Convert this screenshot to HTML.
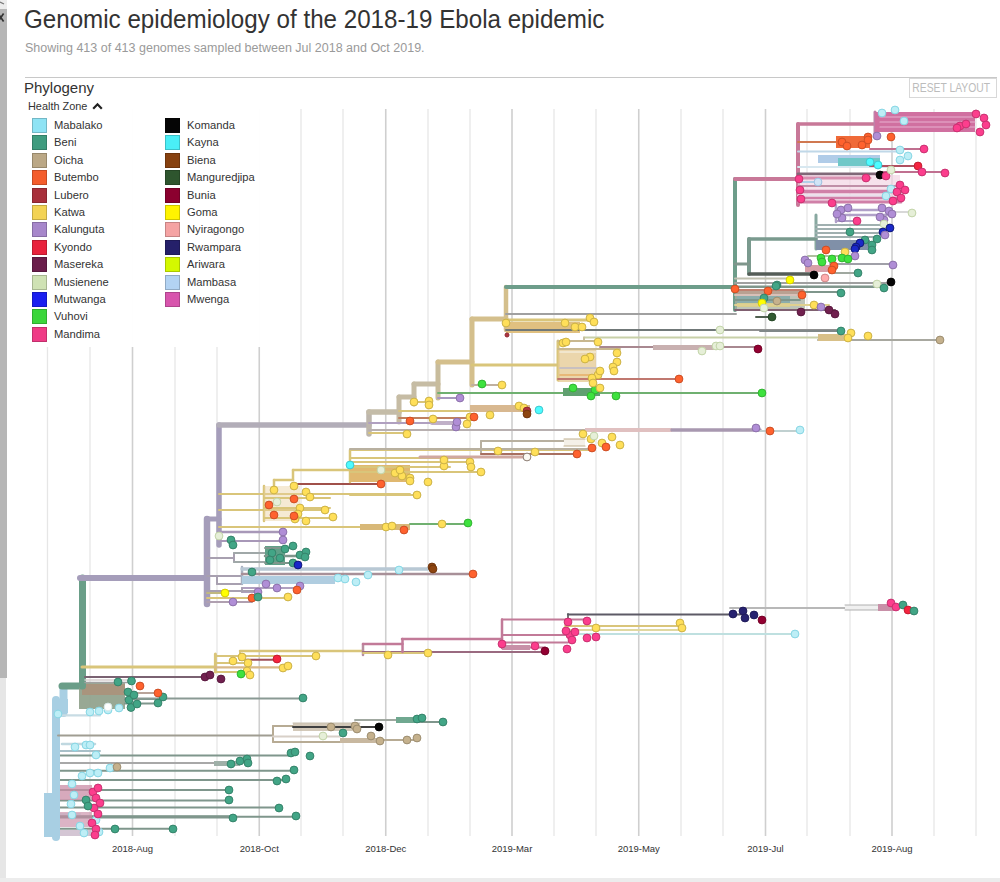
<!DOCTYPE html>
<html><head><meta charset="utf-8"><style>
html,body{margin:0;padding:0;width:1000px;height:882px;overflow:hidden;background:#fff;font-family:"Liberation Sans",sans-serif;}
.abs{position:absolute}
#title{position:absolute;left:24px;top:4px;font-size:26.5px;color:#333;white-space:nowrap;transform-origin:0 0;transform:scaleX(0.912)}
#sub{position:absolute;left:25px;top:41px;font-size:12.5px;color:#9a9a9a;white-space:nowrap}
#hline{position:absolute;left:25px;top:76.5px;width:972px;height:1.6px;background:#c8c8c8}
#phy{position:absolute;left:24px;top:79px;font-size:15px;color:#333;white-space:nowrap}
#reset{position:absolute;left:909px;top:78px;width:88px;height:20px;border:1px solid #d8d8d8;box-sizing:border-box;color:#bcbcbc;font-size:12px;text-align:center;line-height:19px;white-space:nowrap;overflow:hidden}
#legendbg{position:absolute;left:20px;top:96px;width:276px;height:251px;background:rgba(255,255,255,0.975)}
.sw{position:absolute;width:15px;height:15px;box-sizing:border-box}
.lb{position:absolute;font-size:11.2px;color:#333;white-space:nowrap;line-height:13px}
#hz{position:absolute;left:28px;top:100px;font-size:10.9px;color:#333;white-space:nowrap;line-height:12px}
#sbar{position:absolute;left:0;top:9px;width:6.5px;height:669px;background:#b6b6b6}
#sbar2{position:absolute;left:0;top:678px;width:6px;height:204px;background:#e6e6e6}
#bot{position:absolute;left:0;top:878px;width:1000px;height:4px;background:#ececec}
svg{position:absolute;left:0;top:0}
</style></head><body>
<svg width="1000" height="882" viewBox="0 0 1000 882" font-family="Liberation Sans, sans-serif">
<line x1="132.5" y1="109" x2="132.5" y2="836" stroke="#cfcfcf" stroke-width="1.6"/><line x1="259.25" y1="109" x2="259.25" y2="836" stroke="#cfcfcf" stroke-width="1.6"/><line x1="385.75" y1="109" x2="385.75" y2="836" stroke="#cfcfcf" stroke-width="1.6"/><line x1="512" y1="109" x2="512" y2="836" stroke="#cfcfcf" stroke-width="1.6"/><line x1="638.75" y1="109" x2="638.75" y2="836" stroke="#cfcfcf" stroke-width="1.6"/><line x1="765.5" y1="109" x2="765.5" y2="836" stroke="#cfcfcf" stroke-width="1.6"/><line x1="892" y1="109" x2="892" y2="836" stroke="#cfcfcf" stroke-width="1.6"/><line x1="47.5" y1="109" x2="47.5" y2="836" stroke="#e6e6e6" stroke-width="1.3"/><line x1="90" y1="109" x2="90" y2="836" stroke="#e6e6e6" stroke-width="1.3"/><line x1="175" y1="109" x2="175" y2="836" stroke="#e6e6e6" stroke-width="1.3"/><line x1="217" y1="109" x2="217" y2="836" stroke="#e6e6e6" stroke-width="1.3"/><line x1="301" y1="109" x2="301" y2="836" stroke="#e6e6e6" stroke-width="1.3"/><line x1="343" y1="109" x2="343" y2="836" stroke="#e6e6e6" stroke-width="1.3"/><line x1="428" y1="109" x2="428" y2="836" stroke="#e6e6e6" stroke-width="1.3"/><line x1="470" y1="109" x2="470" y2="836" stroke="#e6e6e6" stroke-width="1.3"/><line x1="554" y1="109" x2="554" y2="836" stroke="#e6e6e6" stroke-width="1.3"/><line x1="596" y1="109" x2="596" y2="836" stroke="#e6e6e6" stroke-width="1.3"/><line x1="681" y1="109" x2="681" y2="836" stroke="#e6e6e6" stroke-width="1.3"/><line x1="723" y1="109" x2="723" y2="836" stroke="#e6e6e6" stroke-width="1.3"/><line x1="807" y1="109" x2="807" y2="836" stroke="#e6e6e6" stroke-width="1.3"/><line x1="850" y1="109" x2="850" y2="836" stroke="#e6e6e6" stroke-width="1.3"/><line x1="934" y1="109" x2="934" y2="836" stroke="#e6e6e6" stroke-width="1.3"/><line x1="976" y1="109" x2="976" y2="836" stroke="#e6e6e6" stroke-width="1.3"/>
<text x="132.5" y="852" text-anchor="middle" font-size="9.5" fill="#333">2018-Aug</text><text x="259.25" y="852" text-anchor="middle" font-size="9.5" fill="#333">2018-Oct</text><text x="385.75" y="852" text-anchor="middle" font-size="9.5" fill="#333">2018-Dec</text><text x="512" y="852" text-anchor="middle" font-size="9.5" fill="#333">2019-Mar</text><text x="638.75" y="852" text-anchor="middle" font-size="9.5" fill="#333">2019-May</text><text x="765.5" y="852" text-anchor="middle" font-size="9.5" fill="#333">2019-Jul</text><text x="892" y="852" text-anchor="middle" font-size="9.5" fill="#333">2019-Aug</text>
<line x1="58" y1="755.5" x2="291" y2="755.5" stroke="#7f968c" stroke-width="2.0" stroke-linecap="round"/>
<line x1="58" y1="763" x2="214" y2="763" stroke="#a8a8a8" stroke-width="2.0" stroke-linecap="round"/>
<rect x="214" y="761" width="26" height="5" fill="#9fb0a8" fill-opacity="1"/>
<line x1="58" y1="770.7" x2="294" y2="770.7" stroke="#7f968c" stroke-width="2.0" stroke-linecap="round"/>
<line x1="58" y1="780" x2="286" y2="780" stroke="#7f968c" stroke-width="2.0" stroke-linecap="round"/>
<line x1="58" y1="790" x2="229" y2="790" stroke="#7f968c" stroke-width="2.0" stroke-linecap="round"/>
<line x1="58" y1="800.5" x2="229" y2="800.5" stroke="#7f968c" stroke-width="2.0" stroke-linecap="round"/>
<line x1="58" y1="807.6" x2="279" y2="807.6" stroke="#7f968c" stroke-width="2.0" stroke-linecap="round"/>
<line x1="58" y1="816.8" x2="296" y2="816.8" stroke="#7f968c" stroke-width="2.0" stroke-linecap="round"/>
<line x1="58" y1="816.8" x2="233" y2="816.8" stroke="#7f968c" stroke-width="3.2" stroke-linecap="round"/>
<line x1="58" y1="828.8" x2="173" y2="828.8" stroke="#7f968c" stroke-width="2.0" stroke-linecap="round"/>
<line x1="58" y1="814" x2="80" y2="814" stroke="#d8f0f4" stroke-width="2.0" stroke-linecap="round"/>
<rect x="57" y="785" width="35" height="15" fill="#c98ca6" fill-opacity="0.75"/>
<rect x="57" y="812" width="35" height="15" fill="#c98ca6" fill-opacity="0.65"/>
<rect x="57" y="830" width="35" height="6" fill="#b8a0b8" fill-opacity="0.6"/>
<line x1="58" y1="751" x2="100" y2="751" stroke="#a8c0c8" stroke-width="2.0" stroke-linecap="round"/>
<line x1="62" y1="744" x2="95" y2="744" stroke="#c0d8e0" stroke-width="2.5" stroke-linecap="round"/>
<line x1="56" y1="700" x2="56" y2="837" stroke="#a8cfe3" stroke-width="8" stroke-linecap="round"/>
<rect x="44" y="793" width="11" height="44" fill="#a8cfe3" fill-opacity="1"/>
<rect x="54" y="699" width="14" height="14" fill="#a8cfe3" fill-opacity="1"/>
<line x1="63.5" y1="688" x2="63.5" y2="713" stroke="#a8cfe3" stroke-width="8" stroke-linecap="round"/>
<line x1="62" y1="686" x2="82" y2="686" stroke="#6a9e88" stroke-width="7" stroke-linecap="round"/>
<line x1="60" y1="715.4" x2="100" y2="715.4" stroke="#c8dce4" stroke-width="2.2" stroke-linecap="round"/>
<line x1="58" y1="735.6" x2="273" y2="735.6" stroke="#a09d92" stroke-width="2.0" stroke-linecap="round"/>
<rect x="79" y="683" width="46" height="26" fill="#8d9e88" fill-opacity="0.9"/>
<rect x="82" y="684" width="43" height="11" fill="#b08c74" fill-opacity="0.7"/>
<line x1="125" y1="699" x2="163" y2="699" stroke="#7f968c" stroke-width="2.2" stroke-linecap="round"/>
<line x1="125" y1="693" x2="158" y2="693" stroke="#b9a49a" stroke-width="2.0" stroke-linecap="round"/>
<line x1="125" y1="703.6" x2="158" y2="703.6" stroke="#7f968c" stroke-width="2.0" stroke-linecap="round"/>
<line x1="125" y1="698.4" x2="303" y2="698.4" stroke="#8a9a94" stroke-width="2.0" stroke-linecap="round"/>
<line x1="82.5" y1="578" x2="82.5" y2="686" stroke="#6a9e88" stroke-width="7" stroke-linecap="round"/>
<line x1="80" y1="578" x2="207" y2="578" stroke="#a59dba" stroke-width="6" stroke-linecap="round"/>
<line x1="82" y1="667" x2="215" y2="667" stroke="#d9c57a" stroke-width="3" stroke-linecap="round"/>
<line x1="85" y1="677" x2="210" y2="677" stroke="#7a6272" stroke-width="2" stroke-linecap="round"/>
<line x1="215.4" y1="654" x2="215.4" y2="672" stroke="#d9c57a" stroke-width="3" stroke-linecap="round"/>
<line x1="215" y1="656" x2="316" y2="656" stroke="#d9c57a" stroke-width="2.0" stroke-linecap="round"/>
<line x1="240" y1="651" x2="240" y2="660" stroke="#d9c57a" stroke-width="2" stroke-linecap="round"/>
<line x1="240" y1="651" x2="363" y2="651" stroke="#d9c57a" stroke-width="2.5" stroke-linecap="round"/>
<line x1="240" y1="659.7" x2="277" y2="659.7" stroke="#a0525a" stroke-width="2.0" stroke-linecap="round"/>
<line x1="215" y1="663" x2="250" y2="663" stroke="#d9c57a" stroke-width="2.0" stroke-linecap="round"/>
<line x1="215" y1="667.4" x2="288" y2="667.4" stroke="#d8b888" stroke-width="2.2" stroke-linecap="round"/>
<line x1="215" y1="672" x2="248" y2="672" stroke="#d9c57a" stroke-width="2.0" stroke-linecap="round"/>
<line x1="363" y1="644" x2="363" y2="655" stroke="#b890a0" stroke-width="2.5" stroke-linecap="round"/>
<line x1="363" y1="644" x2="402.5" y2="644" stroke="#c27a98" stroke-width="2.5" stroke-linecap="round"/>
<line x1="363" y1="652" x2="545" y2="652" stroke="#9a6a80" stroke-width="2.2" stroke-linecap="round"/>
<line x1="363" y1="653" x2="428" y2="653" stroke="#d9c57a" stroke-width="2.0" stroke-linecap="round"/>
<line x1="402.5" y1="639" x2="402.5" y2="652" stroke="#c27a98" stroke-width="2.5" stroke-linecap="round"/>
<line x1="402" y1="639" x2="502" y2="639" stroke="#c27a98" stroke-width="2.5" stroke-linecap="round"/>
<line x1="502" y1="619.5" x2="502" y2="648" stroke="#c27a98" stroke-width="2.5" stroke-linecap="round"/>
<line x1="502" y1="619.5" x2="587" y2="619.5" stroke="#c27a98" stroke-width="2" stroke-linecap="round"/>
<line x1="568" y1="614" x2="568" y2="620" stroke="#777" stroke-width="2" stroke-linecap="round"/>
<line x1="568" y1="614.5" x2="740" y2="614.5" stroke="#5d5a66" stroke-width="2.2" stroke-linecap="round"/>
<line x1="730" y1="608" x2="880" y2="608" stroke="#b8b8b8" stroke-width="2.0" stroke-linecap="round"/>
<rect x="845" y="605" width="35" height="5" fill="#f0f0f0" fill-opacity="1"/>
<line x1="845" y1="605" x2="880" y2="605" stroke="#b0b0b0" stroke-width="1" stroke-linecap="round"/>
<line x1="845" y1="610" x2="880" y2="610" stroke="#b0b0b0" stroke-width="1" stroke-linecap="round"/>
<rect x="878" y="604" width="17" height="7" fill="#c890a8" fill-opacity="1"/>
<line x1="565" y1="626" x2="682" y2="626" stroke="#d9c57a" stroke-width="2.0" stroke-linecap="round"/>
<line x1="565" y1="630" x2="682" y2="630" stroke="#e0d8a0" stroke-width="2.0" stroke-linecap="round"/>
<line x1="568" y1="634" x2="795" y2="634" stroke="#bfe0e0" stroke-width="2.0" stroke-linecap="round"/>
<line x1="502" y1="635" x2="568" y2="635" stroke="#c27a98" stroke-width="2.0" stroke-linecap="round"/>
<line x1="502" y1="642.5" x2="568" y2="642.5" stroke="#c27a98" stroke-width="2.0" stroke-linecap="round"/>
<line x1="502" y1="647.5" x2="545" y2="647.5" stroke="#c27a98" stroke-width="2.0" stroke-linecap="round"/>
<rect x="502" y="645" width="28" height="5" fill="#c890a8" fill-opacity="1"/>
<line x1="207" y1="519" x2="207" y2="604" stroke="#a59dba" stroke-width="6.5" stroke-linecap="round"/>
<line x1="207" y1="519" x2="219" y2="519" stroke="#a59dba" stroke-width="5" stroke-linecap="round"/>
<line x1="219" y1="425" x2="219" y2="545" stroke="#a59dba" stroke-width="5.5" stroke-linecap="round"/>
<line x1="219" y1="425" x2="369" y2="425" stroke="#b2adb8" stroke-width="5.5" stroke-linecap="round"/>
<line x1="207" y1="558" x2="234" y2="558" stroke="#a8a0b0" stroke-width="2.0" stroke-linecap="round"/>
<line x1="234" y1="553" x2="234" y2="562" stroke="#a8a0b0" stroke-width="2.0" stroke-linecap="round"/>
<line x1="234" y1="553" x2="265" y2="553" stroke="#a0a8a8" stroke-width="2.0" stroke-linecap="round"/>
<line x1="234" y1="562" x2="265" y2="562" stroke="#a0a8a8" stroke-width="2.0" stroke-linecap="round"/>
<rect x="265" y="546" width="20" height="19" fill="#5fa088" fill-opacity="1"/>
<line x1="265" y1="548" x2="293" y2="548" stroke="#7f968c" stroke-width="2.0" stroke-linecap="round"/>
<line x1="265" y1="556" x2="306" y2="556" stroke="#7f968c" stroke-width="2.5" stroke-linecap="round"/>
<line x1="265" y1="563" x2="298" y2="563" stroke="#7f968c" stroke-width="2.0" stroke-linecap="round"/>
<line x1="217" y1="576" x2="217" y2="584" stroke="#a8a0b0" stroke-width="2.0" stroke-linecap="round"/>
<line x1="207" y1="576" x2="242" y2="576" stroke="#a8a0b0" stroke-width="2.0" stroke-linecap="round"/>
<line x1="217" y1="584" x2="242" y2="584" stroke="#a8a0b0" stroke-width="2.0" stroke-linecap="round"/>
<line x1="242" y1="567" x2="242" y2="584" stroke="#a8b0c0" stroke-width="2.5" stroke-linecap="round"/>
<line x1="242" y1="569" x2="433" y2="569" stroke="#b8c8d4" stroke-width="3.5" stroke-linecap="round"/>
<line x1="242" y1="574" x2="473" y2="574" stroke="#a89098" stroke-width="2.5" stroke-linecap="round"/>
<rect x="242" y="576" width="93" height="8" fill="#b0cde0" fill-opacity="1"/>
<line x1="242" y1="588" x2="300" y2="588" stroke="#b0a0c0" stroke-width="2.0" stroke-linecap="round"/>
<line x1="242" y1="592" x2="258" y2="592" stroke="#b0a0c0" stroke-width="2.0" stroke-linecap="round"/>
<line x1="242" y1="588" x2="242" y2="592" stroke="#a8a0b0" stroke-width="2.0" stroke-linecap="round"/>
<line x1="207" y1="591" x2="258" y2="591" stroke="#a8a0b0" stroke-width="2.0" stroke-linecap="round"/>
<line x1="207" y1="593" x2="225" y2="593" stroke="#c0b880" stroke-width="2.0" stroke-linecap="round"/>
<line x1="207" y1="598" x2="288" y2="598" stroke="#d9c57a" stroke-width="2.0" stroke-linecap="round"/>
<line x1="207" y1="602" x2="252" y2="602" stroke="#b0a0b0" stroke-width="2.0" stroke-linecap="round"/>
<line x1="219" y1="510" x2="325" y2="510" stroke="#d9c57a" stroke-width="2.0" stroke-linecap="round"/>
<line x1="219" y1="527" x2="360" y2="527" stroke="#d9c57a" stroke-width="2.0" stroke-linecap="round"/>
<rect x="360" y="524" width="50" height="6" fill="#d8b878" fill-opacity="1"/>
<line x1="219" y1="532" x2="283" y2="532" stroke="#a898b8" stroke-width="2.5" stroke-linecap="round"/>
<line x1="219" y1="541" x2="283" y2="541" stroke="#a898b8" stroke-width="2.0" stroke-linecap="round"/>
<line x1="219" y1="494" x2="410" y2="494" stroke="#d9c57a" stroke-width="2" stroke-linecap="round"/>
<line x1="293" y1="470" x2="350" y2="470" stroke="#d9c57a" stroke-width="2.5" stroke-linecap="round"/>
<line x1="293" y1="470" x2="293" y2="480" stroke="#d9c57a" stroke-width="2.5" stroke-linecap="round"/>
<line x1="274" y1="480" x2="293" y2="480" stroke="#d9c57a" stroke-width="2.5" stroke-linecap="round"/>
<line x1="274" y1="480" x2="274" y2="488" stroke="#d9c57a" stroke-width="2.5" stroke-linecap="round"/>
<line x1="264" y1="486" x2="264" y2="521" stroke="#d9c57a" stroke-width="2.5" stroke-linecap="round"/>
<rect x="264" y="486" width="36" height="35" fill="#e8d0a0" fill-opacity="0.45"/>
<line x1="264" y1="518" x2="333" y2="518" stroke="#d9c57a" stroke-width="2.0" stroke-linecap="round"/>
<line x1="293" y1="484" x2="381" y2="484" stroke="#a0504a" stroke-width="2.0" stroke-linecap="round"/>
<line x1="264" y1="498" x2="330" y2="498" stroke="#d9c57a" stroke-width="2.0" stroke-linecap="round"/>
<line x1="264" y1="508" x2="330" y2="508" stroke="#d9c57a" stroke-width="2.0" stroke-linecap="round"/>
<line x1="350" y1="450" x2="350" y2="482" stroke="#d9c57a" stroke-width="2.5" stroke-linecap="round"/>
<line x1="350" y1="450" x2="590" y2="450" stroke="#d9c57a" stroke-width="2.0" stroke-linecap="round"/>
<line x1="350" y1="458" x2="470" y2="458" stroke="#d9c57a" stroke-width="2.0" stroke-linecap="round"/>
<rect x="350" y="465" width="60" height="17" fill="#e0b870" fill-opacity="1"/>
<line x1="350" y1="462" x2="471" y2="462" stroke="#d9c57a" stroke-width="2.0" stroke-linecap="round"/>
<line x1="350" y1="472" x2="481" y2="472" stroke="#d9c57a" stroke-width="2.0" stroke-linecap="round"/>
<line x1="350" y1="495" x2="417" y2="495" stroke="#d9c57a" stroke-width="2.0" stroke-linecap="round"/>
<line x1="350" y1="467" x2="450" y2="467" stroke="#d9c57a" stroke-width="2.0" stroke-linecap="round"/>
<line x1="481" y1="441" x2="565" y2="441" stroke="#b8b0a0" stroke-width="2.0" stroke-linecap="round"/>
<line x1="481" y1="441" x2="481" y2="454" stroke="#b8b0a0" stroke-width="2.0" stroke-linecap="round"/>
<line x1="481" y1="454" x2="577" y2="454" stroke="#a87060" stroke-width="2.0" stroke-linecap="round"/>
<rect x="564" y="439" width="21" height="7" fill="#f4f0e8" fill-opacity="1"/>
<line x1="564" y1="439" x2="585" y2="439" stroke="#c0b090" stroke-width="1.2" stroke-linecap="round"/>
<line x1="564" y1="446" x2="585" y2="446" stroke="#c0b090" stroke-width="1.2" stroke-linecap="round"/>
<line x1="420" y1="457" x2="527" y2="457" stroke="#d0a8a0" stroke-width="3" stroke-linecap="round"/>
<line x1="350" y1="449" x2="590" y2="449" stroke="#b8b0a0" stroke-width="2.0" stroke-linecap="round"/>
<line x1="369" y1="412" x2="369" y2="434" stroke="#bdb6ac" stroke-width="5.5" stroke-linecap="round"/>
<line x1="369" y1="412" x2="399" y2="412" stroke="#c4bca8" stroke-width="5.5" stroke-linecap="round"/>
<line x1="399" y1="397" x2="399" y2="422" stroke="#c6bca4" stroke-width="5" stroke-linecap="round"/>
<line x1="399" y1="397" x2="414" y2="397" stroke="#c6bca4" stroke-width="5" stroke-linecap="round"/>
<line x1="414" y1="384" x2="414" y2="404" stroke="#c6bca4" stroke-width="5" stroke-linecap="round"/>
<line x1="414" y1="384" x2="438" y2="384" stroke="#c6bca4" stroke-width="5" stroke-linecap="round"/>
<line x1="438" y1="362" x2="438" y2="398" stroke="#c8bc9c" stroke-width="5" stroke-linecap="round"/>
<line x1="438" y1="362" x2="472" y2="362" stroke="#d4bf8c" stroke-width="5" stroke-linecap="round"/>
<line x1="472" y1="319" x2="472" y2="385" stroke="#d4bf8c" stroke-width="5" stroke-linecap="round"/>
<line x1="472" y1="319" x2="506" y2="319" stroke="#d4bf8c" stroke-width="5" stroke-linecap="round"/>
<line x1="506" y1="287" x2="506" y2="330" stroke="#d4bf8c" stroke-width="4.5" stroke-linecap="round"/>
<line x1="506" y1="287" x2="735" y2="287" stroke="#6d9d8a" stroke-width="4" stroke-linecap="round"/>
<line x1="369" y1="430" x2="585" y2="430" stroke="#b8b0b0" stroke-width="2.0" stroke-linecap="round"/>
<rect x="585" y="428" width="87" height="4" fill="#e0c0c0" fill-opacity="1"/>
<line x1="672" y1="430" x2="760" y2="430" stroke="#a898b0" stroke-width="3.5" stroke-linecap="round"/>
<line x1="760" y1="431" x2="800" y2="431" stroke="#c0d0d0" stroke-width="2.0" stroke-linecap="round"/>
<line x1="369" y1="433" x2="407" y2="433" stroke="#d9c57a" stroke-width="2.0" stroke-linecap="round"/>
<line x1="369" y1="423" x2="457" y2="423" stroke="#b0a0c0" stroke-width="2.0" stroke-linecap="round"/>
<line x1="399" y1="418" x2="470" y2="418" stroke="#c08060" stroke-width="2.0" stroke-linecap="round"/>
<line x1="399" y1="411" x2="470" y2="411" stroke="#d9c57a" stroke-width="2.0" stroke-linecap="round"/>
<rect x="470" y="405" width="60" height="7" fill="#d8b890" fill-opacity="1"/>
<line x1="414" y1="402" x2="429" y2="402" stroke="#d9c57a" stroke-width="2.0" stroke-linecap="round"/>
<line x1="438" y1="393" x2="762" y2="393" stroke="#6fb070" stroke-width="2.0" stroke-linecap="round"/>
<line x1="438" y1="398" x2="460" y2="398" stroke="#a898c0" stroke-width="2.0" stroke-linecap="round"/>
<line x1="472" y1="385" x2="502" y2="385" stroke="#c0b0a0" stroke-width="2.0" stroke-linecap="round"/>
<rect x="563" y="388" width="37" height="8" fill="#60a070" fill-opacity="1"/>
<line x1="506" y1="314" x2="736" y2="314" stroke="#a0a0a0" stroke-width="2.0" stroke-linecap="round"/>
<line x1="506" y1="320" x2="594" y2="320" stroke="#d9c57a" stroke-width="3" stroke-linecap="round"/>
<rect x="506" y="322" width="74" height="11" fill="#e0c080" fill-opacity="1"/>
<line x1="506" y1="330" x2="720" y2="330" stroke="#707878" stroke-width="2.0" stroke-linecap="round"/>
<line x1="720" y1="330" x2="841" y2="330" stroke="#909090" stroke-width="2.0" stroke-linecap="round"/>
<line x1="584" y1="337.5" x2="848" y2="337.5" stroke="#c8d0a8" stroke-width="2.0" stroke-linecap="round"/>
<line x1="584" y1="337.5" x2="584" y2="341" stroke="#c8c0a0" stroke-width="2.0" stroke-linecap="round"/>
<line x1="818" y1="340" x2="940" y2="340" stroke="#a8a8a0" stroke-width="2.0" stroke-linecap="round"/>
<rect x="818" y="334" width="30" height="7" fill="#d8c088" fill-opacity="1"/>
<line x1="760" y1="331" x2="841" y2="331" stroke="#808888" stroke-width="2.0" stroke-linecap="round"/>
<line x1="472" y1="365" x2="558" y2="365" stroke="#d9c57a" stroke-width="3" stroke-linecap="round"/>
<line x1="558" y1="341" x2="558" y2="380" stroke="#d9c57a" stroke-width="3" stroke-linecap="round"/>
<rect x="558" y="348" width="38" height="34" fill="#e4c890" fill-opacity="0.75"/>
<line x1="560" y1="352" x2="596" y2="352" stroke="#f4ecd8" stroke-width="1.5" stroke-linecap="round"/>
<line x1="560" y1="368" x2="596" y2="368" stroke="#c8c0c0" stroke-width="2" stroke-linecap="round"/>
<line x1="560" y1="375" x2="596" y2="375" stroke="#e8b878" stroke-width="2" stroke-linecap="round"/>
<line x1="558" y1="341" x2="598" y2="341" stroke="#c8b890" stroke-width="2.0" stroke-linecap="round"/>
<line x1="558" y1="349" x2="620" y2="349" stroke="#c8b890" stroke-width="2.0" stroke-linecap="round"/>
<line x1="558" y1="379" x2="679" y2="379" stroke="#c07870" stroke-width="2.0" stroke-linecap="round"/>
<line x1="600" y1="347" x2="758" y2="347" stroke="#a88890" stroke-width="2.0" stroke-linecap="round"/>
<rect x="653" y="345" width="67" height="5" fill="#c8b0b0" fill-opacity="1"/>
<line x1="735" y1="179" x2="735" y2="310" stroke="#6d9d8a" stroke-width="4" stroke-linecap="round"/>
<line x1="735" y1="179" x2="798" y2="179" stroke="#c87898" stroke-width="4" stroke-linecap="round"/>
<line x1="798" y1="124" x2="798" y2="205" stroke="#c87898" stroke-width="4" stroke-linecap="round"/>
<line x1="798" y1="124" x2="875" y2="124" stroke="#c87898" stroke-width="3.5" stroke-linecap="round"/>
<line x1="875" y1="112" x2="875" y2="134" stroke="#c080a8" stroke-width="3" stroke-linecap="round"/>
<rect x="875" y="112" width="100" height="20" fill="#d070a0" fill-opacity="1"/>
<line x1="880" y1="117" x2="975" y2="117" stroke="#e8b0d0" stroke-width="1.2" stroke-linecap="round"/>
<line x1="880" y1="122" x2="975" y2="122" stroke="#e8b0d0" stroke-width="1.2" stroke-linecap="round"/>
<line x1="880" y1="127" x2="975" y2="127" stroke="#e8b0d0" stroke-width="1.2" stroke-linecap="round"/>
<line x1="798" y1="142" x2="836" y2="142" stroke="#d07850" stroke-width="2" stroke-linecap="round"/>
<rect x="836" y="136" width="34" height="12" fill="#f06a38" fill-opacity="1"/>
<line x1="798" y1="151.4" x2="900" y2="151.4" stroke="#c0d8e8" stroke-width="2.0" stroke-linecap="round"/>
<line x1="870" y1="149" x2="924" y2="149" stroke="#c07090" stroke-width="2.0" stroke-linecap="round"/>
<rect x="818" y="155" width="62" height="8" fill="#b0cce8" fill-opacity="1"/>
<rect x="838" y="158" width="42" height="10" fill="#70c8c8" fill-opacity="1"/>
<line x1="798" y1="167" x2="890" y2="167" stroke="#d8e8f0" stroke-width="2.0" stroke-linecap="round"/>
<line x1="870" y1="166" x2="918" y2="166" stroke="#b05060" stroke-width="2.0" stroke-linecap="round"/>
<line x1="798" y1="174" x2="880" y2="174" stroke="#806878" stroke-width="2.8" stroke-linecap="round"/>
<line x1="880" y1="172" x2="945" y2="172" stroke="#c07090" stroke-width="2.0" stroke-linecap="round"/>
<rect x="798" y="175" width="102" height="28" fill="#f2d6e4" fill-opacity="0.7"/>
<line x1="798" y1="178" x2="870" y2="178" stroke="#d890b0" stroke-width="3" stroke-linecap="round"/>
<line x1="798" y1="182" x2="818" y2="182" stroke="#b0d0e8" stroke-width="2.0" stroke-linecap="round"/>
<line x1="798" y1="195.5" x2="890" y2="195.5" stroke="#e8e0ec" stroke-width="2" stroke-linecap="round"/>
<line x1="798" y1="186" x2="900" y2="186" stroke="#c090a8" stroke-width="2.0" stroke-linecap="round"/>
<line x1="798" y1="191.4" x2="905" y2="191.4" stroke="#d080a8" stroke-width="3.5" stroke-linecap="round"/>
<line x1="798" y1="198" x2="901" y2="198" stroke="#d080a8" stroke-width="2.5" stroke-linecap="round"/>
<line x1="798" y1="202" x2="901" y2="202" stroke="#d080a8" stroke-width="3" stroke-linecap="round"/>
<line x1="836" y1="205" x2="836" y2="222" stroke="#b0a0c8" stroke-width="2.5" stroke-linecap="round"/>
<line x1="836" y1="210" x2="890" y2="210" stroke="#b0a0c8" stroke-width="2.5" stroke-linecap="round"/>
<line x1="836" y1="215" x2="892" y2="215" stroke="#b0a0c8" stroke-width="2.5" stroke-linecap="round"/>
<line x1="836" y1="221" x2="857" y2="221" stroke="#b0a0c8" stroke-width="2.0" stroke-linecap="round"/>
<line x1="892" y1="212" x2="912" y2="212" stroke="#d8d8d8" stroke-width="2.0" stroke-linecap="round"/>
<line x1="816" y1="215" x2="816" y2="249" stroke="#88a8a0" stroke-width="3" stroke-linecap="round"/>
<line x1="749" y1="239" x2="816" y2="239" stroke="#7a9a8e" stroke-width="3.5" stroke-linecap="round"/>
<line x1="749" y1="239" x2="749" y2="274" stroke="#7a9a8e" stroke-width="4" stroke-linecap="round"/>
<line x1="735" y1="264" x2="749" y2="264" stroke="#7f968c" stroke-width="3" stroke-linecap="round"/>
<line x1="749" y1="274" x2="814" y2="274" stroke="#555d58" stroke-width="3.5" stroke-linecap="round"/>
<line x1="816" y1="225" x2="880" y2="225" stroke="#a0b0b0" stroke-width="2.0" stroke-linecap="round"/>
<line x1="816" y1="229" x2="880" y2="229" stroke="#a0b0b0" stroke-width="2.0" stroke-linecap="round"/>
<line x1="816" y1="233" x2="880" y2="233" stroke="#a0b0b0" stroke-width="2.0" stroke-linecap="round"/>
<line x1="816" y1="237" x2="880" y2="237" stroke="#a0b0b0" stroke-width="2.0" stroke-linecap="round"/>
<rect x="816" y="240" width="54" height="10" fill="#8090a8" fill-opacity="1"/>
<line x1="808" y1="256" x2="857" y2="256" stroke="#b0c0a0" stroke-width="2.0" stroke-linecap="round"/>
<rect x="805" y="265" width="25" height="7" fill="#d8a0a8" fill-opacity="1"/>
<line x1="830" y1="264" x2="893" y2="264" stroke="#a0a0a8" stroke-width="2.0" stroke-linecap="round"/>
<line x1="830" y1="273" x2="858" y2="273" stroke="#a0a8a0" stroke-width="2.0" stroke-linecap="round"/>
<line x1="735" y1="278.6" x2="790" y2="278.6" stroke="#c0c0b0" stroke-width="2.0" stroke-linecap="round"/>
<line x1="735" y1="283" x2="891" y2="283" stroke="#a0a0a0" stroke-width="2.0" stroke-linecap="round"/>
<line x1="735" y1="286.7" x2="884" y2="286.7" stroke="#7f968c" stroke-width="2.5" stroke-linecap="round"/>
<rect x="735" y="290" width="70" height="20" fill="#a8b0a0" fill-opacity="0.75"/>
<rect x="737" y="291" width="68" height="5" fill="#b89888" fill-opacity="0.8"/>
<rect x="737" y="296" width="53" height="7" fill="#80a8a8" fill-opacity="0.8"/>
<rect x="737" y="303" width="53" height="4" fill="#d8d088" fill-opacity="0.9"/>
<line x1="735" y1="290" x2="803" y2="290" stroke="#c08070" stroke-width="2.0" stroke-linecap="round"/>
<line x1="735" y1="295" x2="803" y2="295" stroke="#d8c0b8" stroke-width="2.0" stroke-linecap="round"/>
<line x1="735" y1="300" x2="800" y2="300" stroke="#7f968c" stroke-width="2.0" stroke-linecap="round"/>
<line x1="735" y1="305" x2="829" y2="305" stroke="#e0d090" stroke-width="2.0" stroke-linecap="round"/>
<line x1="800" y1="292" x2="841" y2="292" stroke="#7f968c" stroke-width="2.0" stroke-linecap="round"/>
<line x1="735" y1="310" x2="835" y2="310" stroke="#806070" stroke-width="2.0" stroke-linecap="round"/>
<line x1="756" y1="317" x2="772" y2="317" stroke="#506050" stroke-width="2.0" stroke-linecap="round"/>
<line x1="273" y1="726" x2="273" y2="742" stroke="#b7ab94" stroke-width="2" stroke-linecap="round"/>
<line x1="273" y1="726" x2="293" y2="726" stroke="#b7ab94" stroke-width="2" stroke-linecap="round"/>
<rect x="293" y="723" width="67" height="8" fill="#c8bca8" fill-opacity="0.8"/>
<line x1="293" y1="723" x2="360" y2="723" stroke="#c8c0b0" stroke-width="1.2" stroke-linecap="round"/>
<line x1="293" y1="727" x2="379" y2="727" stroke="#404040" stroke-width="2" stroke-linecap="round"/>
<line x1="355" y1="720" x2="420" y2="720" stroke="#a0a8a0" stroke-width="2.0" stroke-linecap="round"/>
<rect x="396" y="717" width="24" height="6" fill="#70a890" fill-opacity="1"/>
<line x1="420" y1="722" x2="443" y2="722" stroke="#7f968c" stroke-width="2.0" stroke-linecap="round"/>
<line x1="273" y1="742" x2="340" y2="742" stroke="#b7ab94" stroke-width="2" stroke-linecap="round"/>
<rect x="340" y="738" width="40" height="5" fill="#c8b8a0" fill-opacity="1"/>
<line x1="380" y1="740" x2="417" y2="740" stroke="#b7ab94" stroke-width="2.0" stroke-linecap="round"/>
<line x1="273" y1="736.4" x2="340" y2="736.4" stroke="#d8d0c8" stroke-width="2.0" stroke-linecap="round"/>
<line x1="410" y1="524" x2="469" y2="524" stroke="#70b070" stroke-width="2.0" stroke-linecap="round"/>
<line x1="432" y1="423" x2="457" y2="423" stroke="#c0b0c8" stroke-width="4" stroke-linecap="round"/>
<line x1="85" y1="680" x2="130" y2="680" stroke="#d8d0d0" stroke-width="1.5" stroke-linecap="round"/>
<line x1="85" y1="682.5" x2="128" y2="682.5" stroke="#a0a0a0" stroke-width="1.5" stroke-linecap="round"/>
<circle cx="291" cy="753" r="3.9" fill="#42a586" stroke="#35836a" stroke-width="1"/>
<circle cx="295" cy="752" r="3.9" fill="#42a586" stroke="#35836a" stroke-width="1"/>
<circle cx="310" cy="756" r="3.9" fill="#42a586" stroke="#35836a" stroke-width="1"/>
<circle cx="231" cy="764" r="3.9" fill="#42a586" stroke="#35836a" stroke-width="1"/>
<circle cx="240" cy="761" r="3.9" fill="#42a586" stroke="#35836a" stroke-width="1"/>
<circle cx="247" cy="759" r="3.9" fill="#42a586" stroke="#35836a" stroke-width="1"/>
<circle cx="248" cy="763" r="3.9" fill="#42a586" stroke="#35836a" stroke-width="1"/>
<circle cx="294" cy="770" r="3.9" fill="#42a586" stroke="#35836a" stroke-width="1"/>
<circle cx="277" cy="781" r="3.9" fill="#42a586" stroke="#35836a" stroke-width="1"/>
<circle cx="286" cy="779" r="3.9" fill="#42a586" stroke="#35836a" stroke-width="1"/>
<circle cx="229" cy="790" r="3.9" fill="#42a586" stroke="#35836a" stroke-width="1"/>
<circle cx="229" cy="800" r="3.9" fill="#42a586" stroke="#35836a" stroke-width="1"/>
<circle cx="279" cy="808" r="3.9" fill="#42a586" stroke="#35836a" stroke-width="1"/>
<circle cx="233" cy="818" r="3.9" fill="#42a586" stroke="#35836a" stroke-width="1"/>
<circle cx="296" cy="816" r="3.9" fill="#42a586" stroke="#35836a" stroke-width="1"/>
<circle cx="115" cy="829" r="3.9" fill="#42a586" stroke="#35836a" stroke-width="1"/>
<circle cx="173" cy="829" r="3.9" fill="#42a586" stroke="#35836a" stroke-width="1"/>
<circle cx="58" cy="714" r="3.9" fill="#bdeef6" stroke="#86d6e4" stroke-width="1"/>
<circle cx="90" cy="712" r="3.9" fill="#bdeef6" stroke="#86d6e4" stroke-width="1"/>
<circle cx="99" cy="711" r="3.9" fill="#bdeef6" stroke="#86d6e4" stroke-width="1"/>
<circle cx="108" cy="710" r="3.9" fill="#bdeef6" stroke="#86d6e4" stroke-width="1"/>
<circle cx="72" cy="784" r="3.9" fill="#bdeef6" stroke="#86d6e4" stroke-width="1"/>
<circle cx="82" cy="776" r="3.9" fill="#bdeef6" stroke="#86d6e4" stroke-width="1"/>
<circle cx="90" cy="773" r="3.9" fill="#bdeef6" stroke="#86d6e4" stroke-width="1"/>
<circle cx="98" cy="773" r="3.9" fill="#bdeef6" stroke="#86d6e4" stroke-width="1"/>
<circle cx="110" cy="768" r="3.9" fill="#bdeef6" stroke="#86d6e4" stroke-width="1"/>
<circle cx="74" cy="795" r="3.9" fill="#bdeef6" stroke="#86d6e4" stroke-width="1"/>
<circle cx="71" cy="804" r="3.9" fill="#bdeef6" stroke="#86d6e4" stroke-width="1"/>
<circle cx="72" cy="815" r="3.9" fill="#bdeef6" stroke="#86d6e4" stroke-width="1"/>
<circle cx="80" cy="826" r="3.9" fill="#bdeef6" stroke="#86d6e4" stroke-width="1"/>
<circle cx="84" cy="833" r="3.9" fill="#bdeef6" stroke="#86d6e4" stroke-width="1"/>
<circle cx="99" cy="832" r="3.9" fill="#bdeef6" stroke="#86d6e4" stroke-width="1"/>
<circle cx="96" cy="820" r="3.9" fill="#bdeef6" stroke="#86d6e4" stroke-width="1"/>
<circle cx="75" cy="747" r="3.9" fill="#bdeef6" stroke="#86d6e4" stroke-width="1"/>
<circle cx="86" cy="745" r="3.9" fill="#bdeef6" stroke="#86d6e4" stroke-width="1"/>
<circle cx="90" cy="745" r="3.9" fill="#bdeef6" stroke="#86d6e4" stroke-width="1"/>
<circle cx="96" cy="755" r="3.9" fill="#bdeef6" stroke="#86d6e4" stroke-width="1"/>
<circle cx="93" cy="792" r="3.9" fill="#fc3e8d" stroke="#c83170" stroke-width="1"/>
<circle cx="98" cy="788" r="3.9" fill="#fc3e8d" stroke="#c83170" stroke-width="1"/>
<circle cx="96" cy="798" r="3.9" fill="#fc3e8d" stroke="#c83170" stroke-width="1"/>
<circle cx="100" cy="803" r="3.9" fill="#fc3e8d" stroke="#c83170" stroke-width="1"/>
<circle cx="94" cy="808" r="3.9" fill="#fc3e8d" stroke="#c83170" stroke-width="1"/>
<circle cx="98" cy="814" r="3.9" fill="#fc3e8d" stroke="#c83170" stroke-width="1"/>
<circle cx="92" cy="823" r="3.9" fill="#fc3e8d" stroke="#c83170" stroke-width="1"/>
<circle cx="96" cy="829" r="3.9" fill="#fc3e8d" stroke="#c83170" stroke-width="1"/>
<circle cx="95" cy="835" r="3.9" fill="#fc3e8d" stroke="#c83170" stroke-width="1"/>
<circle cx="86" cy="800" r="3.9" fill="#42a586" stroke="#35836a" stroke-width="1"/>
<circle cx="88" cy="806" r="3.9" fill="#42a586" stroke="#35836a" stroke-width="1"/>
<circle cx="117" cy="767" r="3.9" fill="#c5b18d" stroke="#9c8d70" stroke-width="1"/>
<circle cx="108" cy="707" r="3.9" fill="#ffffff" stroke="#d8e8e8" stroke-width="1"/>
<circle cx="119" cy="708" r="3.9" fill="#bdeef6" stroke="#86d6e4" stroke-width="1"/>
<circle cx="118" cy="682" r="3.9" fill="#42a586" stroke="#35836a" stroke-width="1"/>
<circle cx="131.5" cy="681" r="3.9" fill="#42a586" stroke="#35836a" stroke-width="1"/>
<circle cx="129" cy="700" r="3.9" fill="#42a586" stroke="#35836a" stroke-width="1"/>
<circle cx="131" cy="707.5" r="3.9" fill="#42a586" stroke="#35836a" stroke-width="1"/>
<circle cx="137" cy="704" r="3.9" fill="#42a586" stroke="#35836a" stroke-width="1"/>
<circle cx="158" cy="703" r="3.9" fill="#42a586" stroke="#35836a" stroke-width="1"/>
<circle cx="163" cy="697" r="3.9" fill="#42a586" stroke="#35836a" stroke-width="1"/>
<circle cx="128" cy="692" r="3.9" fill="#42a586" stroke="#35836a" stroke-width="1"/>
<circle cx="134" cy="695" r="3.9" fill="#42a586" stroke="#35836a" stroke-width="1"/>
<circle cx="140" cy="686" r="3.9" fill="#ff622e" stroke="#cc4e25" stroke-width="1"/>
<circle cx="158" cy="693" r="3.9" fill="#ff622e" stroke="#cc4e25" stroke-width="1"/>
<circle cx="303" cy="698" r="3.9" fill="#42a586" stroke="#35836a" stroke-width="1"/>
<circle cx="205" cy="677" r="3.9" fill="#71204f" stroke="#5a193f" stroke-width="1"/>
<circle cx="210" cy="675" r="3.9" fill="#71204f" stroke="#5a193f" stroke-width="1"/>
<circle cx="221" cy="679" r="3.9" fill="#71204f" stroke="#5a193f" stroke-width="1"/>
<circle cx="316" cy="656" r="3.9" fill="#ffdf59" stroke="#cbb146" stroke-width="1"/>
<circle cx="277" cy="659" r="3.9" fill="#f5243f" stroke="#c21c32" stroke-width="1"/>
<circle cx="283" cy="668" r="3.9" fill="#ffdf59" stroke="#cbb146" stroke-width="1"/>
<circle cx="288" cy="666" r="3.9" fill="#ffdf59" stroke="#cbb146" stroke-width="1"/>
<circle cx="242" cy="657" r="3.9" fill="#ffdf59" stroke="#cbb146" stroke-width="1"/>
<circle cx="233" cy="661" r="3.9" fill="#ffdf59" stroke="#cbb146" stroke-width="1"/>
<circle cx="248" cy="663" r="3.9" fill="#ffdf59" stroke="#cbb146" stroke-width="1"/>
<circle cx="247" cy="671" r="3.9" fill="#ffdf59" stroke="#cbb146" stroke-width="1"/>
<circle cx="250" cy="675" r="3.9" fill="#ffdf59" stroke="#cbb146" stroke-width="1"/>
<circle cx="241" cy="674" r="3.9" fill="#3ee23e" stroke="#31b331" stroke-width="1"/>
<circle cx="388" cy="655" r="3.9" fill="#ffdf59" stroke="#cbb146" stroke-width="1"/>
<circle cx="428" cy="653" r="3.9" fill="#ffdf59" stroke="#cbb146" stroke-width="1"/>
<circle cx="568" cy="622" r="3.9" fill="#fc3e8d" stroke="#c83170" stroke-width="1"/>
<circle cx="587" cy="621" r="3.9" fill="#fc3e8d" stroke="#c83170" stroke-width="1"/>
<circle cx="733" cy="614" r="3.9" fill="#272270" stroke="#1f1b59" stroke-width="1"/>
<circle cx="743" cy="611" r="3.9" fill="#272270" stroke="#1f1b59" stroke-width="1"/>
<circle cx="745" cy="618" r="3.9" fill="#272270" stroke="#1f1b59" stroke-width="1"/>
<circle cx="754" cy="615" r="3.9" fill="#272270" stroke="#1f1b59" stroke-width="1"/>
<circle cx="762" cy="620" r="3.9" fill="#930032" stroke="#740027" stroke-width="1"/>
<circle cx="891" cy="603" r="3.9" fill="#fc3e8d" stroke="#c83170" stroke-width="1"/>
<circle cx="896" cy="607" r="3.9" fill="#fc3e8d" stroke="#c83170" stroke-width="1"/>
<circle cx="903" cy="605" r="3.9" fill="#42a586" stroke="#35836a" stroke-width="1"/>
<circle cx="908" cy="610" r="3.9" fill="#f5243f" stroke="#c21c32" stroke-width="1"/>
<circle cx="914" cy="611" r="3.9" fill="#42a586" stroke="#35836a" stroke-width="1"/>
<circle cx="680" cy="623" r="3.9" fill="#ffdf59" stroke="#cbb146" stroke-width="1"/>
<circle cx="682" cy="628" r="3.9" fill="#ffdf59" stroke="#cbb146" stroke-width="1"/>
<circle cx="596" cy="628" r="3.9" fill="#ffdf59" stroke="#cbb146" stroke-width="1"/>
<circle cx="795" cy="634" r="3.9" fill="#bdeef6" stroke="#86d6e4" stroke-width="1"/>
<circle cx="570" cy="635" r="3.9" fill="#fc3e8d" stroke="#c83170" stroke-width="1"/>
<circle cx="575" cy="632" r="3.9" fill="#fc3e8d" stroke="#c83170" stroke-width="1"/>
<circle cx="572" cy="640" r="3.9" fill="#fc3e8d" stroke="#c83170" stroke-width="1"/>
<circle cx="587" cy="638" r="3.9" fill="#fc3e8d" stroke="#c83170" stroke-width="1"/>
<circle cx="596" cy="637" r="3.9" fill="#fc3e8d" stroke="#c83170" stroke-width="1"/>
<circle cx="567" cy="649" r="3.9" fill="#fc3e8d" stroke="#c83170" stroke-width="1"/>
<circle cx="502" cy="644" r="3.9" fill="#fc3e8d" stroke="#c83170" stroke-width="1"/>
<circle cx="535" cy="646" r="3.9" fill="#fc3e8d" stroke="#c83170" stroke-width="1"/>
<circle cx="566" cy="631" r="3.9" fill="#fc3e8d" stroke="#c83170" stroke-width="1"/>
<circle cx="545" cy="651" r="3.9" fill="#930032" stroke="#740027" stroke-width="1"/>
<circle cx="293" cy="546" r="3.9" fill="#42a586" stroke="#35836a" stroke-width="1"/>
<circle cx="300" cy="555" r="3.9" fill="#42a586" stroke="#35836a" stroke-width="1"/>
<circle cx="306" cy="552" r="3.9" fill="#42a586" stroke="#35836a" stroke-width="1"/>
<circle cx="305" cy="557" r="3.9" fill="#42a586" stroke="#35836a" stroke-width="1"/>
<circle cx="293" cy="563" r="3.9" fill="#42a586" stroke="#35836a" stroke-width="1"/>
<circle cx="272" cy="553" r="3.9" fill="#42a586" stroke="#35836a" stroke-width="1"/>
<circle cx="280" cy="558" r="3.9" fill="#42a586" stroke="#35836a" stroke-width="1"/>
<circle cx="270" cy="560" r="3.9" fill="#42a586" stroke="#35836a" stroke-width="1"/>
<circle cx="285" cy="549" r="3.9" fill="#42a586" stroke="#35836a" stroke-width="1"/>
<circle cx="298" cy="565" r="3.9" fill="#1a28c8" stroke="#101878" stroke-width="1"/>
<circle cx="432" cy="567" r="3.9" fill="#8e4510" stroke="#71360d" stroke-width="1"/>
<circle cx="433" cy="569" r="3.9" fill="#8e4510" stroke="#71360d" stroke-width="1"/>
<circle cx="399" cy="570" r="3.9" fill="#bdeef6" stroke="#86d6e4" stroke-width="1"/>
<circle cx="473" cy="574" r="3.9" fill="#ff622e" stroke="#cc4e25" stroke-width="1"/>
<circle cx="252" cy="572" r="3.9" fill="#42a586" stroke="#35836a" stroke-width="1"/>
<circle cx="338" cy="578" r="3.9" fill="#bdeef6" stroke="#86d6e4" stroke-width="1"/>
<circle cx="345" cy="579" r="3.9" fill="#bdeef6" stroke="#86d6e4" stroke-width="1"/>
<circle cx="356" cy="582" r="3.9" fill="#bdeef6" stroke="#86d6e4" stroke-width="1"/>
<circle cx="368" cy="575" r="3.9" fill="#bdeef6" stroke="#86d6e4" stroke-width="1"/>
<circle cx="266" cy="584" r="3.9" fill="#b08ed6" stroke="#8c71aa" stroke-width="1"/>
<circle cx="277" cy="588" r="3.9" fill="#b08ed6" stroke="#8c71aa" stroke-width="1"/>
<circle cx="300" cy="586" r="3.9" fill="#b08ed6" stroke="#8c71aa" stroke-width="1"/>
<circle cx="297" cy="590" r="3.9" fill="#ff622e" stroke="#cc4e25" stroke-width="1"/>
<circle cx="288" cy="597" r="3.9" fill="#ffdf59" stroke="#cbb146" stroke-width="1"/>
<circle cx="252" cy="598" r="3.9" fill="#ff622e" stroke="#cc4e25" stroke-width="1"/>
<circle cx="258" cy="592" r="3.9" fill="#b08ed6" stroke="#8c71aa" stroke-width="1"/>
<circle cx="225" cy="593" r="3.9" fill="#ffff00" stroke="#d5cc00" stroke-width="1"/>
<circle cx="233" cy="602" r="3.9" fill="#b08ed6" stroke="#8c71aa" stroke-width="1"/>
<circle cx="258" cy="597" r="3.9" fill="#42a586" stroke="#35836a" stroke-width="1"/>
<circle cx="325" cy="510" r="3.9" fill="#ffdf59" stroke="#cbb146" stroke-width="1"/>
<circle cx="386" cy="527" r="3.9" fill="#ffdf59" stroke="#cbb146" stroke-width="1"/>
<circle cx="392" cy="526" r="3.9" fill="#ffdf59" stroke="#cbb146" stroke-width="1"/>
<circle cx="404" cy="530" r="3.9" fill="#ff622e" stroke="#cc4e25" stroke-width="1"/>
<circle cx="283" cy="532" r="3.9" fill="#b08ed6" stroke="#8c71aa" stroke-width="1"/>
<circle cx="283" cy="540" r="3.9" fill="#b08ed6" stroke="#8c71aa" stroke-width="1"/>
<circle cx="231" cy="540" r="3.9" fill="#42a586" stroke="#35836a" stroke-width="1"/>
<circle cx="233" cy="545" r="3.9" fill="#42a586" stroke="#35836a" stroke-width="1"/>
<circle cx="219" cy="536" r="3.9" fill="#e6efd8" stroke="#c2d4a8" stroke-width="1"/>
<circle cx="333" cy="517" r="3.9" fill="#ffdf59" stroke="#cbb146" stroke-width="1"/>
<circle cx="381" cy="484" r="3.9" fill="#ff622e" stroke="#cc4e25" stroke-width="1"/>
<circle cx="274" cy="490" r="3.9" fill="#ffdf59" stroke="#cbb146" stroke-width="1"/>
<circle cx="294" cy="486" r="3.9" fill="#ffdf59" stroke="#cbb146" stroke-width="1"/>
<circle cx="306" cy="492" r="3.9" fill="#ffdf59" stroke="#cbb146" stroke-width="1"/>
<circle cx="310" cy="497" r="3.9" fill="#ffdf59" stroke="#cbb146" stroke-width="1"/>
<circle cx="300" cy="508" r="3.9" fill="#ffdf59" stroke="#cbb146" stroke-width="1"/>
<circle cx="298" cy="514" r="3.9" fill="#ffdf59" stroke="#cbb146" stroke-width="1"/>
<circle cx="295" cy="519" r="3.9" fill="#ffdf59" stroke="#cbb146" stroke-width="1"/>
<circle cx="306" cy="521" r="3.9" fill="#ffdf59" stroke="#cbb146" stroke-width="1"/>
<circle cx="269" cy="505" r="3.9" fill="#ff622e" stroke="#cc4e25" stroke-width="1"/>
<circle cx="294" cy="516" r="3.9" fill="#ff622e" stroke="#cc4e25" stroke-width="1"/>
<circle cx="294" cy="499" r="3.9" fill="#ff622e" stroke="#cc4e25" stroke-width="1"/>
<circle cx="277" cy="502" r="3.9" fill="#e6efd8" stroke="#c2d4a8" stroke-width="1"/>
<circle cx="274" cy="515" r="3.9" fill="#ff622e" stroke="#cc4e25" stroke-width="1"/>
<circle cx="350" cy="465" r="3.9" fill="#4efbff" stroke="#3ec7ce" stroke-width="1"/>
<circle cx="381" cy="470" r="3.9" fill="#e6efd8" stroke="#c2d4a8" stroke-width="1"/>
<circle cx="395" cy="473" r="3.9" fill="#ffdf59" stroke="#cbb146" stroke-width="1"/>
<circle cx="402" cy="476" r="3.9" fill="#ffdf59" stroke="#cbb146" stroke-width="1"/>
<circle cx="410" cy="478" r="3.9" fill="#ffdf59" stroke="#cbb146" stroke-width="1"/>
<circle cx="410" cy="481" r="3.9" fill="#ffdf59" stroke="#cbb146" stroke-width="1"/>
<circle cx="428" cy="482" r="3.9" fill="#ffdf59" stroke="#cbb146" stroke-width="1"/>
<circle cx="400" cy="470" r="3.9" fill="#ffdf59" stroke="#cbb146" stroke-width="1"/>
<circle cx="470" cy="462" r="3.9" fill="#ffdf59" stroke="#cbb146" stroke-width="1"/>
<circle cx="471" cy="467" r="3.9" fill="#ffdf59" stroke="#cbb146" stroke-width="1"/>
<circle cx="481" cy="472" r="3.9" fill="#ffdf59" stroke="#cbb146" stroke-width="1"/>
<circle cx="417" cy="495" r="3.9" fill="#ffdf59" stroke="#cbb146" stroke-width="1"/>
<circle cx="444" cy="466" r="3.9" fill="#ffdf59" stroke="#cbb146" stroke-width="1"/>
<circle cx="444" cy="460" r="3.9" fill="#ffdf59" stroke="#cbb146" stroke-width="1"/>
<circle cx="527" cy="457" r="3.9" fill="#fbfaf4" stroke="#8a7a70" stroke-width="1"/>
<circle cx="498" cy="451" r="3.9" fill="#ffdf59" stroke="#cbb146" stroke-width="1"/>
<circle cx="535" cy="452" r="3.9" fill="#ffdf59" stroke="#cbb146" stroke-width="1"/>
<circle cx="577" cy="454" r="3.9" fill="#ff622e" stroke="#cc4e25" stroke-width="1"/>
<circle cx="583" cy="434" r="3.9" fill="#ffdf59" stroke="#cbb146" stroke-width="1"/>
<circle cx="591" cy="439" r="3.9" fill="#ffdf59" stroke="#cbb146" stroke-width="1"/>
<circle cx="612" cy="437" r="3.9" fill="#ffdf59" stroke="#cbb146" stroke-width="1"/>
<circle cx="620" cy="445" r="3.9" fill="#ffdf59" stroke="#cbb146" stroke-width="1"/>
<circle cx="602" cy="443" r="3.9" fill="#ffdf59" stroke="#cbb146" stroke-width="1"/>
<circle cx="592" cy="448" r="3.9" fill="#ff622e" stroke="#cc4e25" stroke-width="1"/>
<circle cx="606" cy="447" r="3.9" fill="#ff622e" stroke="#cc4e25" stroke-width="1"/>
<circle cx="594" cy="436" r="3.9" fill="#e6efd8" stroke="#c2d4a8" stroke-width="1"/>
<circle cx="756" cy="428" r="3.9" fill="#b08ed6" stroke="#8c71aa" stroke-width="1"/>
<circle cx="770" cy="431" r="3.9" fill="#ff622e" stroke="#cc4e25" stroke-width="1"/>
<circle cx="800" cy="430" r="3.9" fill="#bdeef6" stroke="#86d6e4" stroke-width="1"/>
<circle cx="407" cy="434" r="3.9" fill="#ffdf59" stroke="#cbb146" stroke-width="1"/>
<circle cx="456" cy="427" r="3.9" fill="#b08ed6" stroke="#8c71aa" stroke-width="1"/>
<circle cx="457" cy="422" r="3.9" fill="#b08ed6" stroke="#8c71aa" stroke-width="1"/>
<circle cx="410" cy="421" r="3.9" fill="#ff622e" stroke="#cc4e25" stroke-width="1"/>
<circle cx="433" cy="419" r="3.9" fill="#ffdf59" stroke="#cbb146" stroke-width="1"/>
<circle cx="470" cy="417" r="3.9" fill="#ffdf59" stroke="#cbb146" stroke-width="1"/>
<circle cx="474" cy="417" r="3.9" fill="#ff622e" stroke="#cc4e25" stroke-width="1"/>
<circle cx="467" cy="424" r="3.9" fill="#ffdf59" stroke="#cbb146" stroke-width="1"/>
<circle cx="490" cy="415" r="3.9" fill="#ffdf59" stroke="#cbb146" stroke-width="1"/>
<circle cx="519" cy="406" r="3.9" fill="#ffdf59" stroke="#cbb146" stroke-width="1"/>
<circle cx="524" cy="408" r="3.9" fill="#ffdf59" stroke="#cbb146" stroke-width="1"/>
<circle cx="527" cy="411" r="3.9" fill="#b1333e" stroke="#8d2831" stroke-width="1"/>
<circle cx="527" cy="414" r="3.9" fill="#8e4510" stroke="#71360d" stroke-width="1"/>
<circle cx="539" cy="410" r="3.9" fill="#4efbff" stroke="#3ec7ce" stroke-width="1"/>
<circle cx="414" cy="402" r="3.9" fill="#ffdf59" stroke="#cbb146" stroke-width="1"/>
<circle cx="429" cy="401" r="3.9" fill="#ffdf59" stroke="#cbb146" stroke-width="1"/>
<circle cx="429" cy="405" r="3.9" fill="#ffdf59" stroke="#cbb146" stroke-width="1"/>
<circle cx="762" cy="393" r="3.9" fill="#3ee23e" stroke="#31b331" stroke-width="1"/>
<circle cx="460" cy="398" r="3.9" fill="#b08ed6" stroke="#8c71aa" stroke-width="1"/>
<circle cx="482" cy="384" r="3.9" fill="#3ee23e" stroke="#31b331" stroke-width="1"/>
<circle cx="502" cy="385" r="3.9" fill="#ffdf59" stroke="#cbb146" stroke-width="1"/>
<circle cx="573" cy="388" r="3.9" fill="#3ee23e" stroke="#31b331" stroke-width="1"/>
<circle cx="595" cy="390" r="3.9" fill="#3ee23e" stroke="#31b331" stroke-width="1"/>
<circle cx="591" cy="396" r="3.9" fill="#3ee23e" stroke="#31b331" stroke-width="1"/>
<circle cx="616" cy="396" r="3.9" fill="#3ee23e" stroke="#31b331" stroke-width="1"/>
<circle cx="590" cy="318" r="3.9" fill="#ffdf59" stroke="#cbb146" stroke-width="1"/>
<circle cx="594" cy="322" r="3.9" fill="#ffdf59" stroke="#cbb146" stroke-width="1"/>
<circle cx="565" cy="323" r="3.9" fill="#ffdf59" stroke="#cbb146" stroke-width="1"/>
<circle cx="575" cy="327" r="3.9" fill="#ffdf59" stroke="#cbb146" stroke-width="1"/>
<circle cx="582" cy="327" r="3.9" fill="#ffdf59" stroke="#cbb146" stroke-width="1"/>
<circle cx="506" cy="323" r="3.9" fill="#ffdf59" stroke="#cbb146" stroke-width="1"/>
<circle cx="720" cy="330" r="3.9" fill="#e6efd8" stroke="#c2d4a8" stroke-width="1"/>
<circle cx="507" cy="335" r="2" fill="#b1333e" stroke="#8d2831" stroke-width="1"/>
<circle cx="940" cy="340" r="3.9" fill="#c5b18d" stroke="#9c8d70" stroke-width="1"/>
<circle cx="841" cy="331" r="3.9" fill="#42a586" stroke="#35836a" stroke-width="1"/>
<circle cx="851" cy="333" r="3.9" fill="#ffdf59" stroke="#cbb146" stroke-width="1"/>
<circle cx="848" cy="338" r="3.9" fill="#ffdf59" stroke="#cbb146" stroke-width="1"/>
<circle cx="868" cy="336" r="3.9" fill="#ffdf59" stroke="#cbb146" stroke-width="1"/>
<circle cx="598" cy="342" r="3.9" fill="#ffdf59" stroke="#cbb146" stroke-width="1"/>
<circle cx="563" cy="343" r="3.9" fill="#ffdf59" stroke="#cbb146" stroke-width="1"/>
<circle cx="566" cy="342" r="3.9" fill="#ffdf59" stroke="#cbb146" stroke-width="1"/>
<circle cx="617" cy="353" r="3.9" fill="#ffdf59" stroke="#cbb146" stroke-width="1"/>
<circle cx="617" cy="362" r="3.9" fill="#ffdf59" stroke="#cbb146" stroke-width="1"/>
<circle cx="613" cy="367" r="3.9" fill="#ffdf59" stroke="#cbb146" stroke-width="1"/>
<circle cx="614" cy="371" r="3.9" fill="#ffdf59" stroke="#cbb146" stroke-width="1"/>
<circle cx="590" cy="357" r="3.9" fill="#ffdf59" stroke="#cbb146" stroke-width="1"/>
<circle cx="585" cy="359" r="3.9" fill="#ffdf59" stroke="#cbb146" stroke-width="1"/>
<circle cx="598" cy="375" r="3.9" fill="#ffdf59" stroke="#cbb146" stroke-width="1"/>
<circle cx="592" cy="378" r="3.9" fill="#ffdf59" stroke="#cbb146" stroke-width="1"/>
<circle cx="593" cy="383" r="3.9" fill="#ffdf59" stroke="#cbb146" stroke-width="1"/>
<circle cx="600" cy="371" r="3.9" fill="#ffdf59" stroke="#cbb146" stroke-width="1"/>
<circle cx="600" cy="388" r="3.9" fill="#ffdf59" stroke="#cbb146" stroke-width="1"/>
<circle cx="679" cy="379" r="3.9" fill="#ff622e" stroke="#cc4e25" stroke-width="1"/>
<circle cx="716" cy="346" r="3.9" fill="#e6efd8" stroke="#c2d4a8" stroke-width="1"/>
<circle cx="720" cy="346" r="3.9" fill="#e6efd8" stroke="#c2d4a8" stroke-width="1"/>
<circle cx="702" cy="351" r="3.9" fill="#e6efd8" stroke="#c2d4a8" stroke-width="1"/>
<circle cx="758" cy="349" r="3.9" fill="#930032" stroke="#740027" stroke-width="1"/>
<circle cx="882" cy="113" r="3.9" fill="#bdeef6" stroke="#86d6e4" stroke-width="1"/>
<circle cx="895" cy="110" r="3.9" fill="#bdeef6" stroke="#86d6e4" stroke-width="1"/>
<circle cx="904" cy="121" r="3.9" fill="#bdeef6" stroke="#86d6e4" stroke-width="1"/>
<circle cx="976" cy="114" r="3.9" fill="#fc3e8d" stroke="#c83170" stroke-width="1"/>
<circle cx="984" cy="118" r="3.9" fill="#fc3e8d" stroke="#c83170" stroke-width="1"/>
<circle cx="986" cy="125" r="3.9" fill="#fc3e8d" stroke="#c83170" stroke-width="1"/>
<circle cx="980" cy="132" r="3.9" fill="#fc3e8d" stroke="#c83170" stroke-width="1"/>
<circle cx="960" cy="126" r="3.9" fill="#fc3e8d" stroke="#c83170" stroke-width="1"/>
<circle cx="966" cy="124" r="3.9" fill="#fc3e8d" stroke="#c83170" stroke-width="1"/>
<circle cx="957" cy="128" r="3.9" fill="#fc3e8d" stroke="#c83170" stroke-width="1"/>
<circle cx="877" cy="136" r="3.9" fill="#b08ed6" stroke="#8c71aa" stroke-width="1"/>
<circle cx="891" cy="137" r="3.9" fill="#ff622e" stroke="#cc4e25" stroke-width="1"/>
<circle cx="842" cy="142" r="3.9" fill="#ff622e" stroke="#cc4e25" stroke-width="1"/>
<circle cx="847" cy="146" r="3.9" fill="#ff622e" stroke="#cc4e25" stroke-width="1"/>
<circle cx="862" cy="145" r="3.9" fill="#ff622e" stroke="#cc4e25" stroke-width="1"/>
<circle cx="868" cy="137" r="3.9" fill="#ff622e" stroke="#cc4e25" stroke-width="1"/>
<circle cx="868" cy="140" r="3.9" fill="#ff622e" stroke="#cc4e25" stroke-width="1"/>
<circle cx="924" cy="149" r="3.9" fill="#fc3e8d" stroke="#c83170" stroke-width="1"/>
<circle cx="870" cy="162" r="3.9" fill="#4efbff" stroke="#3ec7ce" stroke-width="1"/>
<circle cx="878" cy="165" r="3.9" fill="#4efbff" stroke="#3ec7ce" stroke-width="1"/>
<circle cx="900" cy="150" r="3.9" fill="#bdeef6" stroke="#86d6e4" stroke-width="1"/>
<circle cx="908" cy="156" r="3.9" fill="#bdeef6" stroke="#86d6e4" stroke-width="1"/>
<circle cx="900" cy="160" r="3.9" fill="#bdeef6" stroke="#86d6e4" stroke-width="1"/>
<circle cx="918" cy="166" r="3.9" fill="#f5243f" stroke="#c21c32" stroke-width="1"/>
<circle cx="880" cy="175" r="3.9" fill="#050505" stroke="#040404" stroke-width="1"/>
<circle cx="886" cy="176" r="3.9" fill="#fc3e8d" stroke="#c83170" stroke-width="1"/>
<circle cx="866" cy="178" r="3.9" fill="#fc3e8d" stroke="#c83170" stroke-width="1"/>
<circle cx="922" cy="172" r="3.9" fill="#fc3e8d" stroke="#c83170" stroke-width="1"/>
<circle cx="945" cy="173" r="3.9" fill="#fc3e8d" stroke="#c83170" stroke-width="1"/>
<circle cx="891" cy="170" r="3.9" fill="#e6efd8" stroke="#c2d4a8" stroke-width="1"/>
<circle cx="818" cy="182" r="3.9" fill="#d0e4f6" stroke="#9cc0e0" stroke-width="1"/>
<circle cx="891" cy="189" r="3.9" fill="#bdeef6" stroke="#86d6e4" stroke-width="1"/>
<circle cx="886" cy="196" r="3.9" fill="#bdeef6" stroke="#86d6e4" stroke-width="1"/>
<circle cx="799" cy="179" r="3.9" fill="#fc3e8d" stroke="#c83170" stroke-width="1"/>
<circle cx="800" cy="190" r="3.9" fill="#fc3e8d" stroke="#c83170" stroke-width="1"/>
<circle cx="801" cy="199" r="3.9" fill="#fc3e8d" stroke="#c83170" stroke-width="1"/>
<circle cx="900" cy="185" r="3.9" fill="#fc3e8d" stroke="#c83170" stroke-width="1"/>
<circle cx="905" cy="190" r="3.9" fill="#fc3e8d" stroke="#c83170" stroke-width="1"/>
<circle cx="897" cy="192" r="3.9" fill="#fc3e8d" stroke="#c83170" stroke-width="1"/>
<circle cx="893" cy="201" r="3.9" fill="#fc3e8d" stroke="#c83170" stroke-width="1"/>
<circle cx="901" cy="198" r="3.9" fill="#fc3e8d" stroke="#c83170" stroke-width="1"/>
<circle cx="832" cy="203" r="3.9" fill="#fc3e8d" stroke="#c83170" stroke-width="1"/>
<circle cx="841" cy="210" r="3.9" fill="#b08ed6" stroke="#8c71aa" stroke-width="1"/>
<circle cx="848" cy="208" r="3.9" fill="#b08ed6" stroke="#8c71aa" stroke-width="1"/>
<circle cx="842" cy="218" r="3.9" fill="#b08ed6" stroke="#8c71aa" stroke-width="1"/>
<circle cx="837" cy="214" r="3.9" fill="#b08ed6" stroke="#8c71aa" stroke-width="1"/>
<circle cx="882" cy="208" r="3.9" fill="#b08ed6" stroke="#8c71aa" stroke-width="1"/>
<circle cx="889" cy="211" r="3.9" fill="#b08ed6" stroke="#8c71aa" stroke-width="1"/>
<circle cx="884" cy="220" r="3.9" fill="#b08ed6" stroke="#8c71aa" stroke-width="1"/>
<circle cx="880" cy="217" r="3.9" fill="#b08ed6" stroke="#8c71aa" stroke-width="1"/>
<circle cx="892" cy="214" r="3.9" fill="#b08ed6" stroke="#8c71aa" stroke-width="1"/>
<circle cx="857" cy="221" r="3.9" fill="#fc3e8d" stroke="#c83170" stroke-width="1"/>
<circle cx="912" cy="213" r="3.9" fill="#e6efd8" stroke="#c2d4a8" stroke-width="1"/>
<circle cx="814" cy="275" r="3.9" fill="#050505" stroke="#040404" stroke-width="1"/>
<circle cx="884" cy="224" r="3.9" fill="#e6efd8" stroke="#c2d4a8" stroke-width="1"/>
<circle cx="890" cy="228" r="3.9" fill="#1a28c8" stroke="#101878" stroke-width="1"/>
<circle cx="883" cy="232" r="3.9" fill="#1a28c8" stroke="#101878" stroke-width="1"/>
<circle cx="850" cy="232" r="3.9" fill="#42a586" stroke="#35836a" stroke-width="1"/>
<circle cx="885" cy="235" r="3.9" fill="#b08ed6" stroke="#8c71aa" stroke-width="1"/>
<circle cx="877" cy="239" r="3.9" fill="#42a586" stroke="#35836a" stroke-width="1"/>
<circle cx="865" cy="240" r="3.9" fill="#42a586" stroke="#35836a" stroke-width="1"/>
<circle cx="860" cy="243" r="3.9" fill="#1a28c8" stroke="#101878" stroke-width="1"/>
<circle cx="856" cy="247" r="3.9" fill="#1a28c8" stroke="#101878" stroke-width="1"/>
<circle cx="855" cy="249" r="3.9" fill="#1a28c8" stroke="#101878" stroke-width="1"/>
<circle cx="872" cy="245" r="3.9" fill="#42a586" stroke="#35836a" stroke-width="1"/>
<circle cx="872" cy="250" r="3.9" fill="#42a586" stroke="#35836a" stroke-width="1"/>
<circle cx="845" cy="252" r="3.9" fill="#ffdf59" stroke="#cbb146" stroke-width="1"/>
<circle cx="855" cy="256" r="3.9" fill="#b08ed6" stroke="#8c71aa" stroke-width="1"/>
<circle cx="826" cy="250" r="3.9" fill="#ff622e" stroke="#cc4e25" stroke-width="1"/>
<circle cx="821" cy="258" r="3.9" fill="#3ee23e" stroke="#31b331" stroke-width="1"/>
<circle cx="822" cy="262" r="3.9" fill="#3ee23e" stroke="#31b331" stroke-width="1"/>
<circle cx="832" cy="259" r="3.9" fill="#3ee23e" stroke="#31b331" stroke-width="1"/>
<circle cx="842" cy="258" r="3.9" fill="#3ee23e" stroke="#31b331" stroke-width="1"/>
<circle cx="848" cy="259" r="3.9" fill="#3ee23e" stroke="#31b331" stroke-width="1"/>
<circle cx="805" cy="260" r="3.9" fill="#b08ed6" stroke="#8c71aa" stroke-width="1"/>
<circle cx="808" cy="263" r="3.9" fill="#b08ed6" stroke="#8c71aa" stroke-width="1"/>
<circle cx="834" cy="266" r="3.9" fill="#ff622e" stroke="#cc4e25" stroke-width="1"/>
<circle cx="832" cy="270" r="3.9" fill="#ff622e" stroke="#cc4e25" stroke-width="1"/>
<circle cx="825" cy="278" r="3.9" fill="#ffacac" stroke="#cd8888" stroke-width="1"/>
<circle cx="893" cy="265" r="3.9" fill="#b08ed6" stroke="#8c71aa" stroke-width="1"/>
<circle cx="858" cy="273" r="3.9" fill="#42a586" stroke="#35836a" stroke-width="1"/>
<circle cx="790" cy="280" r="3.9" fill="#ffff00" stroke="#d5cc00" stroke-width="1"/>
<circle cx="877" cy="284" r="3.9" fill="#e6efd8" stroke="#c2d4a8" stroke-width="1"/>
<circle cx="891" cy="282" r="3.9" fill="#050505" stroke="#040404" stroke-width="1"/>
<circle cx="777" cy="285" r="3.9" fill="#42a586" stroke="#35836a" stroke-width="1"/>
<circle cx="884" cy="288" r="3.9" fill="#42a586" stroke="#35836a" stroke-width="1"/>
<circle cx="735" cy="289" r="3.9" fill="#ff622e" stroke="#cc4e25" stroke-width="1"/>
<circle cx="768" cy="291" r="3.9" fill="#ff622e" stroke="#cc4e25" stroke-width="1"/>
<circle cx="776" cy="286" r="3.9" fill="#42a586" stroke="#35836a" stroke-width="1"/>
<circle cx="764" cy="298" r="3.9" fill="#42a586" stroke="#35836a" stroke-width="1"/>
<circle cx="762" cy="303" r="3.9" fill="#ffff00" stroke="#d5cc00" stroke-width="1"/>
<circle cx="777" cy="301" r="3.9" fill="#c5b18d" stroke="#9c8d70" stroke-width="1"/>
<circle cx="764" cy="308" r="3.9" fill="#e6efd8" stroke="#c2d4a8" stroke-width="1"/>
<circle cx="802" cy="295" r="3.9" fill="#ff622e" stroke="#cc4e25" stroke-width="1"/>
<circle cx="841" cy="293" r="3.9" fill="#42a586" stroke="#35836a" stroke-width="1"/>
<circle cx="814" cy="305" r="3.9" fill="#ffdf59" stroke="#cbb146" stroke-width="1"/>
<circle cx="821" cy="307" r="3.9" fill="#b08ed6" stroke="#8c71aa" stroke-width="1"/>
<circle cx="829" cy="310" r="3.9" fill="#71204f" stroke="#5a193f" stroke-width="1"/>
<circle cx="835" cy="314" r="3.9" fill="#71204f" stroke="#5a193f" stroke-width="1"/>
<circle cx="801" cy="312" r="3.9" fill="#71204f" stroke="#5a193f" stroke-width="1"/>
<circle cx="772" cy="317" r="3.9" fill="#315a31" stroke="#264726" stroke-width="1"/>
<circle cx="379" cy="727" r="3.9" fill="#050505" stroke="#040404" stroke-width="1"/>
<circle cx="331" cy="727" r="3.9" fill="#c5b18d" stroke="#9c8d70" stroke-width="1"/>
<circle cx="355" cy="726" r="3.9" fill="#c5b18d" stroke="#9c8d70" stroke-width="1"/>
<circle cx="357" cy="729" r="3.9" fill="#c5b18d" stroke="#9c8d70" stroke-width="1"/>
<circle cx="417" cy="719" r="3.9" fill="#42a586" stroke="#35836a" stroke-width="1"/>
<circle cx="422" cy="718" r="3.9" fill="#42a586" stroke="#35836a" stroke-width="1"/>
<circle cx="443" cy="722" r="3.9" fill="#42a586" stroke="#35836a" stroke-width="1"/>
<circle cx="371" cy="736" r="3.9" fill="#c5b18d" stroke="#9c8d70" stroke-width="1"/>
<circle cx="380" cy="741" r="3.9" fill="#c5b18d" stroke="#9c8d70" stroke-width="1"/>
<circle cx="407" cy="740" r="3.9" fill="#c5b18d" stroke="#9c8d70" stroke-width="1"/>
<circle cx="417" cy="738" r="3.9" fill="#c5b18d" stroke="#9c8d70" stroke-width="1"/>
<circle cx="323" cy="736" r="3.9" fill="#e6efd8" stroke="#c2d4a8" stroke-width="1"/>
<circle cx="343" cy="733" r="3.9" fill="#42a586" stroke="#35836a" stroke-width="1"/>
<circle cx="468" cy="523" r="3.9" fill="#3ee23e" stroke="#31b331" stroke-width="1"/>
<circle cx="442" cy="524" r="3.9" fill="#ffdf59" stroke="#cbb146" stroke-width="1"/>
</svg>
<div id="legendbg"></div>
<div id="title">Genomic epidemiology of the 2018-19 Ebola epidemic</div>
<div id="sub">Showing 413 of 413 genomes sampled between Jul 2018 and Oct 2019.</div>
<div id="hline"></div>
<div id="phy">Phylogeny</div>
<div id="reset"><span style="display:inline-block;transform:scaleX(0.86);transform-origin:50% 50%;margin-left:-4px">RESET LAYOUT</span></div>
<div id="hz">Health Zone <svg style="position:relative;display:inline-block;vertical-align:middle;top:-1px;margin-left:2px" width="11" height="8" viewBox="0 0 11 8"><path d="M1.2 6.8 L5.5 2.3 L9.8 6.8" stroke="#222" stroke-width="2.2" fill="none"/></svg></div>
<div class="sw" style="left:32px;top:118.0px;background:#8ee3f4;border:1px solid #73b7c5"></div><div class="lb" style="left:54px;top:119.0px">Mabalako</div><div class="sw" style="left:32px;top:135.4px;background:#3f9c7f;border:1px solid #337e67"></div><div class="lb" style="left:54px;top:136.4px">Beni</div><div class="sw" style="left:32px;top:152.8px;background:#bba886;border:1px solid #97886c"></div><div class="lb" style="left:54px;top:153.8px">Oicha</div><div class="sw" style="left:32px;top:170.2px;background:#f45d2c;border:1px solid #c54b24"></div><div class="lb" style="left:54px;top:171.2px">Butembo</div><div class="sw" style="left:32px;top:187.6px;background:#a8303b;border:1px solid #882730"></div><div class="lb" style="left:54px;top:188.6px">Lubero</div><div class="sw" style="left:32px;top:205.0px;background:#f3d354;border:1px solid #c4aa44"></div><div class="lb" style="left:54px;top:206.0px">Katwa</div><div class="sw" style="left:32px;top:222.4px;background:#a787cb;border:1px solid #876da4"></div><div class="lb" style="left:54px;top:223.4px">Kalunguta</div><div class="sw" style="left:32px;top:239.8px;background:#e8223c;border:1px solid #bb1b30"></div><div class="lb" style="left:54px;top:240.8px">Kyondo</div><div class="sw" style="left:32px;top:257.2px;background:#6b1e4b;border:1px solid #56183d"></div><div class="lb" style="left:54px;top:258.2px">Masereka</div><div class="sw" style="left:32px;top:274.6px;background:#cfe2b4;border:1px solid #a7b691"></div><div class="lb" style="left:54px;top:275.6px">Musienene</div><div class="sw" style="left:32px;top:292.0px;background:#1a1ff0;border:1px solid #1519c2"></div><div class="lb" style="left:54px;top:293.0px">Mutwanga</div><div class="sw" style="left:32px;top:309.4px;background:#3bd63b;border:1px solid #30ad30"></div><div class="lb" style="left:54px;top:310.4px">Vuhovi</div><div class="sw" style="left:32px;top:326.8px;background:#ef3b86;border:1px solid #c1306c"></div><div class="lb" style="left:54px;top:327.8px">Mandima</div><div class="sw" style="left:165px;top:118.0px;background:#050505;border:1px solid #040404"></div><div class="lb" style="left:187px;top:119.0px">Komanda</div><div class="sw" style="left:165px;top:135.4px;background:#4aeef6;border:1px solid #3cc0c7"></div><div class="lb" style="left:187px;top:136.4px">Kayna</div><div class="sw" style="left:165px;top:152.8px;background:#87410f;border:1px solid #6d340c"></div><div class="lb" style="left:187px;top:153.8px">Biena</div><div class="sw" style="left:165px;top:170.2px;background:#2e552e;border:1px solid #254525"></div><div class="lb" style="left:187px;top:171.2px">Manguredjipa</div><div class="sw" style="left:165px;top:187.6px;background:#8b002f;border:1px solid #700026"></div><div class="lb" style="left:187px;top:188.6px">Bunia</div><div class="sw" style="left:165px;top:205.0px;background:#fff400;border:1px solid #cec500"></div><div class="lb" style="left:187px;top:206.0px">Goma</div><div class="sw" style="left:165px;top:222.4px;background:#f5a3a3;border:1px solid #c68484"></div><div class="lb" style="left:187px;top:223.4px">Nyiragongo</div><div class="sw" style="left:165px;top:239.8px;background:#25206a;border:1px solid #1e1a56"></div><div class="lb" style="left:187px;top:240.8px">Rwampara</div><div class="sw" style="left:165px;top:257.2px;background:#d4f800;border:1px solid #abc800"></div><div class="lb" style="left:187px;top:258.2px">Ariwara</div><div class="sw" style="left:165px;top:274.6px;background:#b3d3f3;border:1px solid #91aac4"></div><div class="lb" style="left:187px;top:275.6px">Mambasa</div><div class="sw" style="left:165px;top:292.0px;background:#d855ad;border:1px solid #ae458c"></div><div class="lb" style="left:187px;top:293.0px">Mwenga</div>
<div id="sbar"></div><div id="sbar2"></div><div id="bot"></div>
<div class="abs" style="left:0;top:0;width:7px;height:9px;background:#ececec"></div><svg style="position:absolute;left:0;top:0" width="8" height="30" viewBox="0 0 8 30"><path d="M-2 13.5 L3.6 21.5 M3.6 13.5 L-2 21.5" stroke="#333" stroke-width="1.7" fill="none"/><path d="M0 2 L4 4" stroke="#777" stroke-width="1.2"/></svg>
</body></html>
